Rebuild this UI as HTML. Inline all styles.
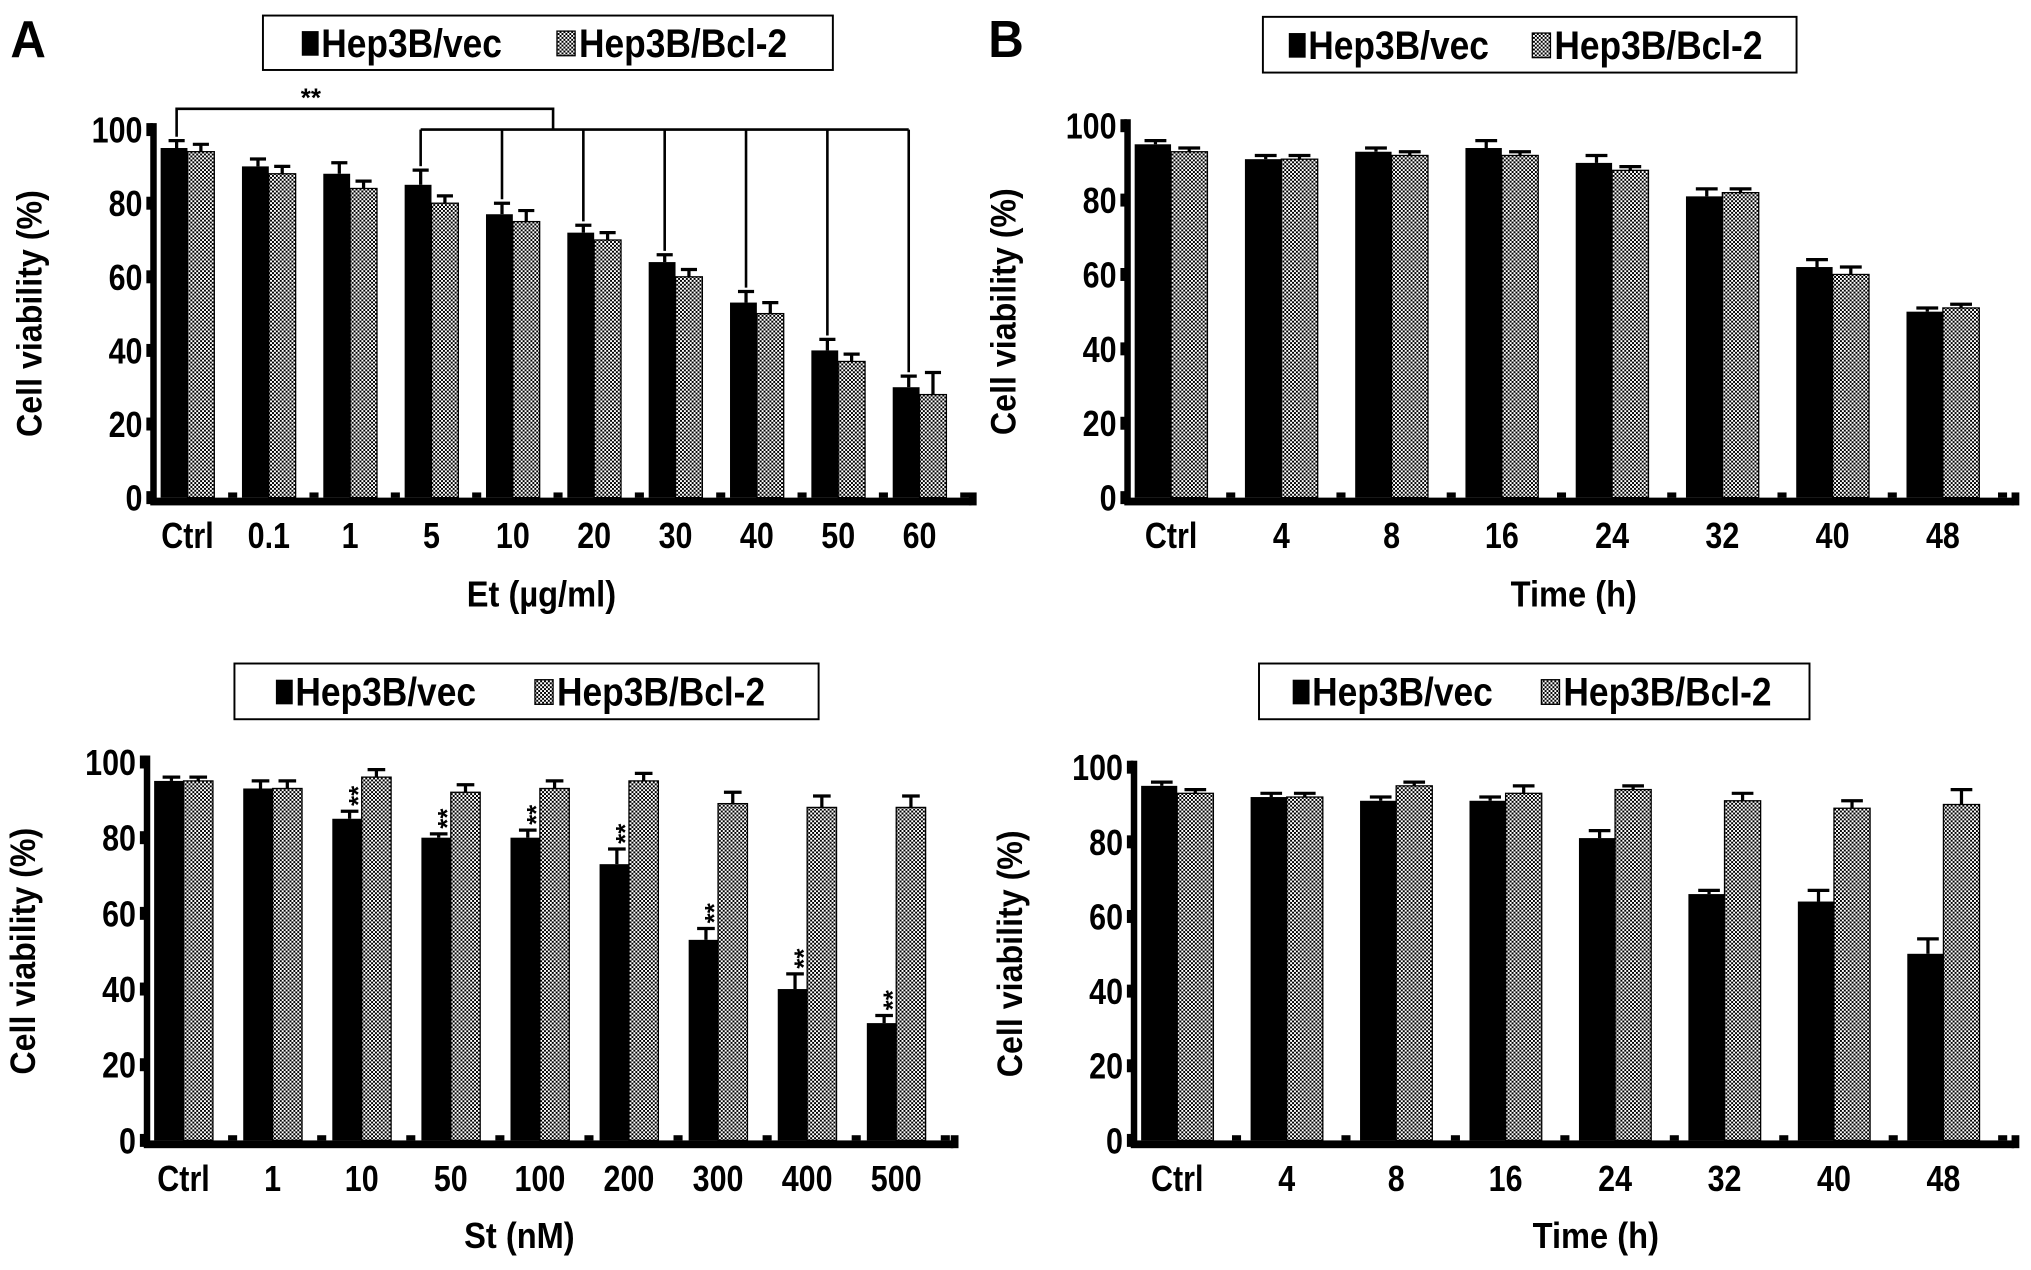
<!DOCTYPE html>
<html><head><meta charset="utf-8"><style>
html,body{margin:0;padding:0;background:#fff;}
svg{display:block;}
text{font-family:"Liberation Sans",sans-serif;font-weight:bold;fill:#000;}
</style></head><body>
<svg id="fig" width="2031" height="1270" viewBox="0 0 1568 980" preserveAspectRatio="none">
<defs>
<pattern id="hatch" width="3" height="3" patternUnits="userSpaceOnUse">
<rect width="3" height="3" fill="#fff"/><rect width="1.5" height="1.5" fill="#000"/><rect x="1.5" y="1.5" width="1.5" height="1.5" fill="#000"/>
</pattern>
</defs>
</svg>
<script>
// Panel A (Et)
const catsA = ["Ctrl","0.1","1","5","10","20","30","40","50","60"];
const vecA = [95,90,88,85,77,72,64,53,40,30];
const vecErrA = [2,2,3,4,3,2,2,3,3,3];
const bclA = [94,88,84,80,75,70,60,50,37,28];
const bclErrA = [2,2,2,2,3,2,2,3,2,6];
// Panel B top (Time)
const catsB = ["Ctrl","4","8","16","24","32","40","48"];
const vecB = [95,91,93,94,90,81,62,50];
const vecErrB = [1,1,1,2,2,2,2,1];
const bclB = [93,91,92,92,88,82,60,51];
const bclErrB = [1,1,1,1,1,1,2,1];
// Panel C bottom-left (St)
const catsC = ["Ctrl","1","10","50","100","200","300","400","500"];
const vecC = [95,93,85,80,80,73,53,40,31];
const vecErrC = [1,2,2,1,2,4,3,4,2];
const bclC = [95,93,96,92,93,95,89,88,88];
const bclErrC = [1,2,2,2,2,2,3,3,3];
const sigC = ["","","**","**","**","**","**","**","**"];
// Panel D bottom-right (Time)
const catsD = ["Ctrl","4","8","16","24","32","40","48"];
const vecD = [95,92,91,91,81,66,64,50];
const vecErrD = [1,1,1,1,2,1,3,4];
const bclD = [93,92,95,93,94,91,89,90];
const bclErrD = [1,1,1,2,1,2,2,4];
const yTicks = [0,20,40,60,80,100];

const NS="http://www.w3.org/2000/svg";
const svg=document.getElementById('fig');
function mk(tag,attrs,parent,txt){const e=document.createElementNS(NS,tag);for(const k in attrs)e.setAttribute(k,attrs[k]);if(txt!==undefined)e.textContent=txt;(parent||svg).appendChild(e);return e;}
function T(parent,x,y,size,anchor,str,rot,sx){
  const tr=`translate(${x},${y})`+(rot?` rotate(${rot})`:'')+` scale(${sx||0.84},1)`;
  return mk('text',{x:0,y:0,'font-size':size,'text-anchor':anchor,transform:tr},parent,str);
}

function panel(p){
  const g=mk('g',{});
  
  
  const y=v=>p.y0-(p.y0-p.y100)*v/100;
  const n=p.cats.length;
  const s=(p.xEnd-p.ax-6)/n;
  const bw=s*0.33;
  const lg=mk('g',{},g);
  
  
  mk('rect',{x:p.leg[0],y:p.leg[1],width:p.leg[2]-p.leg[0],height:p.leg[3]-p.leg[1],fill:'#fff',stroke:'#000','stroke-width':1.5},lg);
  const ly=(p.leg[1]+p.leg[3])/2;
  const e1=mk('g',{},lg);
  
  
  mk('rect',{x:p.legX[0],y:ly-9,width:13,height:19,fill:'#000'},e1);
  T(e1,p.legX[0]+15,ly+11,31,'start','Hep3B/vec',0,0.88);
  const e2=mk('g',{},lg);
  
  
  mk('rect',{x:p.legX[1],y:ly-9,width:14,height:19,fill:'url(#hatch)',stroke:'#000','stroke-width':1},e2);
  T(e2,p.legX[1]+17,ly+11,31,'start','Hep3B/Bcl-2',0,0.88);
  yTicks.forEach(t=>{
    const tl=T(g,p.ax-8,y(t)+10,28,'end',String(t));
    
    
    mk('rect',{x:p.ax-5,y:y(t)-5,width:5,height:10,fill:'#000'},g);
  });
  const yt=T(g,p.ax-86,(p.y0+p.y100)/2,27,'middle','Cell viability (%)',-90,0.92);
  
  
  const xt=T(g,p.xTitle[0],p.xTitle[1],28,'middle',p.xlabel,0,0.9);
  
  
  for(let i=0;i<n;i++){
    const left=p.ax+6+i*s;
    const pairs=[[p.vec[i],p.vecErr[i],'#000','bar-vec'],[p.bcl[i],p.bclErr[i],'url(#hatch)','bar-bcl2']];
    pairs.forEach((d,j)=>{
      const bx=left+j*bw;
      const r=mk('rect',{x:bx,y:y(d[0]),width:bw,height:y(0)-y(d[0]),fill:d[2],stroke:'#000','stroke-width':j?1:0},g);
      
      
      const cx=bx+bw/2+(j?0:2);
      mk('line',{x1:cx,x2:cx,y1:y(d[0]),y2:y(d[0]+d[1]),stroke:'#000','stroke-width':2.5},g);
      mk('line',{x1:cx-bw*0.3,x2:cx+bw*0.3,y1:y(d[0]+d[1]),y2:y(d[0]+d[1]),stroke:'#000','stroke-width':2.5},g);
    });
    mk('rect',{x:left+2*bw+s*0.17,y:y(0)-4,width:7,height:4,fill:'#000'},g);
    const lb=T(g,left+bw,p.y0+39,28,'middle',p.cats[i]);
    
    
    if(p.sig&&p.sig[i]){
      const top=y(p.vec[i]+p.vecErr[i])-4;
      const st=T(g,left+bw+4,top,20,'start',p.sig[i],-90,1);
      
      
    }
  }
  const ya=mk('rect',{x:p.ax-2,y:p.y100-5,width:5,height:p.y0-p.y100+8,fill:'#000'},g);
  
  
  const xa=mk('rect',{x:p.ax-2,y:p.y0,width:p.xEnd-p.ax,height:6,fill:'#000'},g);
  
  
  mk('rect',{x:p.xEnd-4,y:p.y0-4,width:6,height:10,fill:'#000'},g);
  return {y,s,bw,g};
}

const A=panel({name:'panel-a-top',cats:catsA,vec:vecA,vecErr:vecErrA,bcl:bclA,bclErr:bclErrA,ax:118,y0:384,y100:100,xEnd:752,leg:[203,12,643,54],legX:[233,430],xlabel:'Et (µg/ml)',xTitle:[418,468]});
const B=panel({name:'panel-b-top',cats:catsB,vec:vecB,vecErr:vecErrB,bcl:bclB,bclErr:bclErrB,ax:870,y0:384,y100:97,xEnd:1557,leg:[975,13,1387,56],legX:[995,1183],xlabel:'Time (h)',xTitle:[1215,468]});
const C=panel({name:'panel-a-bottom',cats:catsC,vec:vecC,vecErr:vecErrC,bcl:bclC,bclErr:bclErrC,sig:sigC,ax:113,y0:880,y100:588,xEnd:738,leg:[181,512,632,555],legX:[213,413],xlabel:'St (nM)',xTitle:[401,963]});
const D=panel({name:'panel-b-bottom',cats:catsD,vec:vecD,vecErr:vecErrD,bcl:bclD,bclErr:bclErrD,ax:875,y0:880,y100:592,xEnd:1557,leg:[972,512,1397,555],legX:[998,1190],xlabel:'Time  (h)',xTitle:[1232,963]});

const la=T(svg,8,44,40,'start','A',0,0.95);


const lbB=T(svg,763,44,40,'start','B',0,0.95);



(function(){
  const br=mk('g',{fill:'none',stroke:'#000','stroke-width':2});
  
  
  const xb=i=>118+6+i*A.s+A.bw/2+2;
  const yTop=A.y(vecA[0]+vecErrA[0])-3;
  mk('polyline',{points:`${xb(0)},${yTop} ${xb(0)},84 427,84 427,100`},br);
  mk('line',{x1:xb(3),x2:xb(9),y1:100,y2:100},br);
  for(let i=3;i<catsA.length;i++){
    mk('line',{x1:xb(i),x2:xb(i),y1:100,y2:A.y(vecA[i]+vecErrA[i])-3},br);
  }
  const st=T(svg,240,82,20,'middle','**',0,1);
  
  
})();
</script>
</body></html>
